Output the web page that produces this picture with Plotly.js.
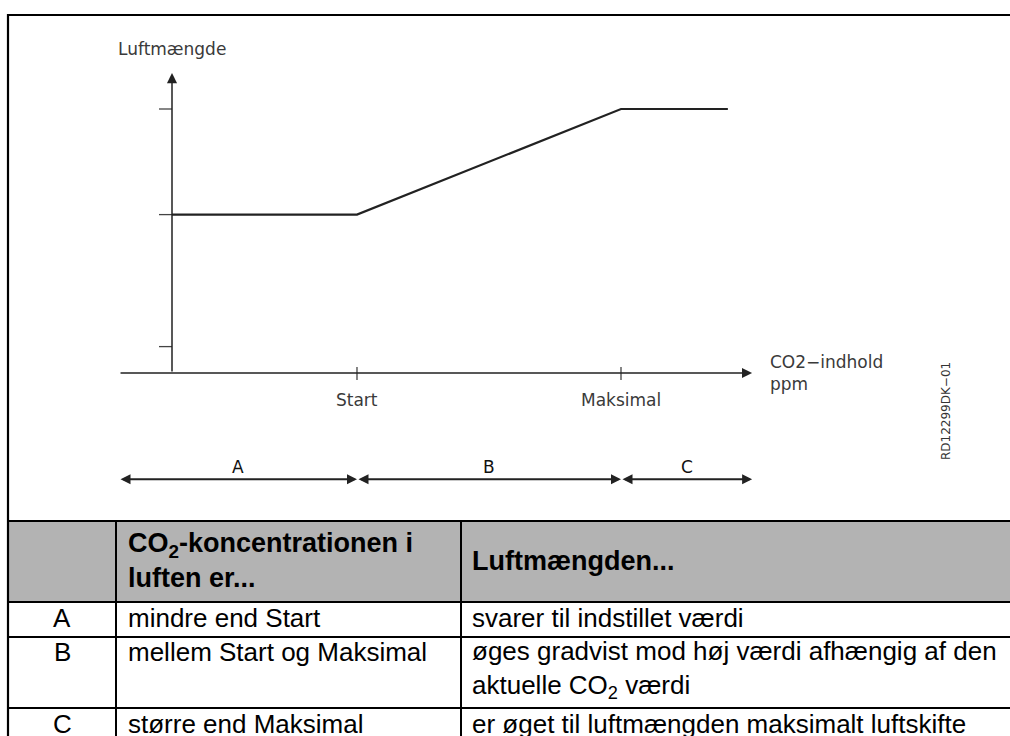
<!DOCTYPE html>
<html><head><meta charset="utf-8">
<script src="https://cdn.plot.ly/plotly-3.0.1.min.js"></script>
<style>html,body{margin:0;padding:0;background:#fff;}#chart{width:1010px;height:736px;}</style>
</head><body><div id="chart"></div>
<script>
// ---------------- data ----------------
const co2Points = [0, 412, 1000, 1238];      // CO2 level (relative): axis origin, Start, Maksimal, end of curve
const airflowPoints = [60, 60, 100, 100];     // Luftmængde (% of max)
const xTickValues = [412, 1000];
const xTickLabels = ['Start', 'Maksimal'];
const yTickValues = [10, 60, 100];
const zoneLabels = ['A', 'B', 'C'];
const zoneBounds = [-118, 412, 1000, 1292];
const xAxisTitle = 'CO2\u2212indhold<br>ppm';
const yAxisTitle = 'Luftmængde';
const drawingId = 'RD12299DK\u221201';
const tableHeader = ['', '<b>CO<sub>2</sub>-koncentrationen i<br>luften er...</b>', '<b>Luftmængden...</b>'];
const tableKeys = ['A', 'B', 'C'];
const tableCol2 = ['mindre end Start', 'mellem Start og Maksimal', 'større end Maksimal'];
const tableCol3 = ['svarer til indstillet værdi',
  'øges gradvist mod høj værdi afhængig af den<br>aktuelle CO<sub>2</sub> værdi',
  'er øget til luftmængden maksimalt luftskifte'];

// ---------------- layout geometry ----------------
const W = 1010, H = 736;
const ox = 172, oy = 373, sx = 0.449, sy = 2.64;
const xRange = [-ox / sx, (W - ox) / sx];
const yRange = [-(H - oy) / sy, oy / sy];
const P = v => v / W;
const Q = v => 1 - v / H;
const yAxisTop = 113.6;
const zoneRowY = -40.2;
const ink = '#222';
const diagFont = {family: 'DejaVu Sans', size: 17, color: '#3a3a3a'};
const tabFont = {family: 'Liberation Sans, Arial', size: 26, color: '#000'};
const headFont = {family: 'Liberation Sans, Arial', size: 27, color: '#000'};

const shapes = [];
const annotations = [];

// axes ticks
yTickValues.forEach(v => shapes.push({type: 'line', xref: 'x', yref: 'y', xsizemode: 'pixel', xanchor: 0,
  x0: -13, x1: 0, y0: v, y1: v, line: {color: '#444', width: 1.3}}));
xTickValues.forEach(v => shapes.push({type: 'line', xref: 'x', yref: 'y', ysizemode: 'pixel', yanchor: 0,
  x0: v, x1: v, y0: -7, y1: 6, line: {color: '#444', width: 1.3}}));

// axis arrows
annotations.push({x: zoneBounds[3], y: 0, ax: zoneBounds[0], ay: 0, xref: 'x', yref: 'y', axref: 'x', ayref: 'y',
  text: '', showarrow: true, arrowhead: 2, arrowsize: 1.35, arrowwidth: 1.5, arrowcolor: ink, standoff: 0});
annotations.push({x: 0, y: yAxisTop, ax: 0, ay: 0, xref: 'x', yref: 'y', axref: 'x', ayref: 'y',
  text: '', showarrow: true, arrowhead: 2, arrowsize: 1.35, arrowwidth: 1.5, arrowcolor: ink, standoff: 0});

// tick labels
xTickValues.forEach((v, i) => annotations.push({x: v, y: 0, xref: 'x', yref: 'y', yshift: -27,
  text: xTickLabels[i], showarrow: false, font: diagFont}));
annotations.push({x: (768 - ox) / sx, y: 0, xref: 'x', yref: 'y', xanchor: 'left', yanchor: 'middle', align: 'left',
  text: xAxisTitle, showarrow: false, font: diagFont});
annotations.push({x: 0, y: (oy - 49) / sy, xref: 'x', yref: 'y', text: yAxisTitle, showarrow: false, font: diagFont});
annotations.push({x: P(955), y: Q(411), xref: 'paper', yref: 'paper', text: drawingId, textangle: -90,
  showarrow: false, font: {family: 'DejaVu Sans', size: 12, color: '#333'}});

// zone arrows
zoneLabels.forEach((lab, i) => {
  annotations.push({x: zoneBounds[i + 1], y: zoneRowY, ax: zoneBounds[i], ay: zoneRowY, xref: 'x', yref: 'y',
    axref: 'x', ayref: 'y', text: '', showarrow: true, arrowside: 'end+start', arrowhead: 2, startarrowhead: 2,
    arrowsize: 1, startarrowsize: 1, arrowwidth: 2, arrowcolor: ink, standoff: 0, startstandoff: 0});
  annotations.push({x: (zoneBounds[i] + zoneBounds[i + 1]) / 2, y: zoneRowY, xref: 'x', yref: 'y', yshift: 12,
    text: lab, showarrow: false, font: {family: 'DejaVu Sans', size: 17, color: '#111'}});
});

// frame + table
shapes.push({type: 'rect', xref: 'paper', yref: 'paper', x0: P(8), x1: P(1015), y0: Q(521), y1: Q(602),
  fillcolor: '#b3b3b3', line: {width: 0}, layer: 'below'});
shapes.push({type: 'line', xref: 'paper', yref: 'paper', x0: P(7), x1: P(1015), y0: Q(15), y1: Q(15), line: {color: '#000', width: 2.2}});
shapes.push({type: 'line', xref: 'paper', yref: 'paper', x0: P(8), x1: P(8), y0: Q(14), y1: Q(745), line: {color: '#000', width: 2.2}});
[521, 602, 637, 708].forEach(y => shapes.push({type: 'line', xref: 'paper', yref: 'paper', x0: P(8), x1: P(1015),
  y0: Q(y), y1: Q(y), line: {color: '#000', width: 2}}));
[116, 461].forEach(x => shapes.push({type: 'line', xref: 'paper', yref: 'paper', x0: P(x), x1: P(x),
  y0: Q(521), y1: Q(745), line: {color: '#000', width: 2}}));

const colX = [62, 126, 470];
annotations.push({x: P(colX[1]), y: Q(560), xref: 'paper', yref: 'paper', xanchor: 'left', yanchor: 'middle', align: 'left',
  text: tableHeader[1], showarrow: false, font: headFont});
annotations.push({x: P(colX[2]), y: Q(561), xref: 'paper', yref: 'paper', xanchor: 'left', yanchor: 'middle', align: 'left',
  text: tableHeader[2], showarrow: false, font: headFont});
const rowY = [618, 652, 724];
tableKeys.forEach((k, i) => {
  annotations.push({x: P(colX[0]), y: Q(rowY[i]), xref: 'paper', yref: 'paper', xanchor: 'center', yanchor: 'middle',
    text: k, showarrow: false, font: tabFont});
  annotations.push({x: P(colX[1]), y: Q(rowY[i]), xref: 'paper', yref: 'paper', xanchor: 'left', yanchor: 'middle',
    align: 'left', text: tableCol2[i], showarrow: false, font: tabFont});
  const multi = tableCol3[i].indexOf('<br>') >= 0;
  annotations.push({x: P(colX[2]), y: Q(multi ? rowY[i] + 17 : rowY[i]), xref: 'paper', yref: 'paper', xanchor: 'left',
    yanchor: 'middle', align: 'left', text: tableCol3[i], showarrow: false, font: tabFont});
});

const trace = {x: co2Points, y: airflowPoints, type: 'scatter', mode: 'lines',
  line: {color: ink, width: 2.2}, hoverinfo: 'skip', cliponaxis: false};

const layout = {
  width: W, height: H, margin: {l: 0, r: 0, t: 0, b: 0},
  paper_bgcolor: '#fff', plot_bgcolor: '#fff', showlegend: false,
  xaxis: {range: xRange, domain: [0, 1], visible: false, fixedrange: true},
  yaxis: {range: yRange, domain: [0, 1], visible: false, fixedrange: true},
  shapes: shapes, annotations: annotations
};
Plotly.newPlot('chart', [trace], layout, {displayModeBar: false, staticPlot: true});
</script></body></html>
